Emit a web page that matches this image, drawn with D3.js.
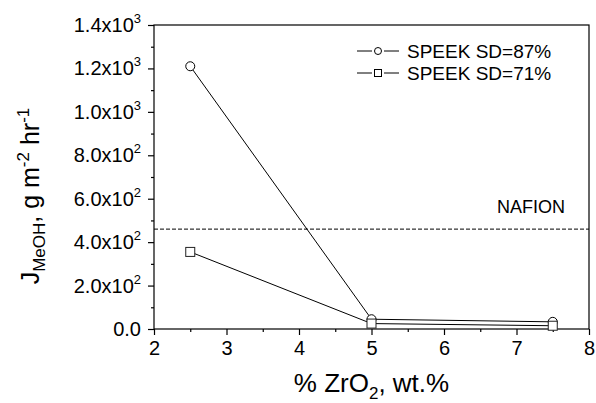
<!DOCTYPE html>
<html>
<head>
<meta charset="utf-8">
<script src="https://cdn.jsdelivr.net/npm/d3@7"></script>
<style>
  body { margin: 0; background: #fff; }
  svg text { font-family: Arial, "Liberation Sans", sans-serif; fill: #000; }
</style>
</head>
<body>
<div id="chart"></div>
<script>
// data
var zro2 = [2.5, 5, 7.5];
var sd87 = [1210, 45, 33];
var sd71 = [355, 25, 15];
var nafion = 460;
var seriesNames = ["SPEEK SD=87%", "SPEEK SD=71%"];
var yTicks = [0, 200, 400, 600, 800, 1000, 1200, 1400];
var yTickMant = ["0.0", "2.0", "4.0", "6.0", "8.0", "1.0", "1.2", "1.4"];
var yTickExp = ["", "2", "2", "2", "2", "3", "3", "3"];
var xTicks = [2, 3, 4, 5, 6, 7, 8];

var W = 596, H = 403;
var m = {left: 154, right: 7, top: 25, bottom: 74};
var svg = d3.select('#chart').append('svg').attr('width', W).attr('height', H);

var x = d3.scaleLinear().domain([2, 8]).range([m.left, W - m.right]);
var y = d3.scaleLinear().domain([0, 1400]).range([H - m.bottom, m.top]);

// frame
svg.append('rect')
  .attr('x', x(2)).attr('y', y(1400))
  .attr('width', x(8) - x(2)).attr('height', y(0) - y(1400))
  .attr('fill', 'none').attr('stroke', '#000').attr('stroke-width', 1.2);

// x axis
var xAxis = svg.append('g').attr('transform', 'translate(0,' + y(0) + ')');
xAxis.call(d3.axisBottom(x).tickValues(xTicks).tickSize(6).tickFormat(d3.format('d')));
xAxis.append('g').call(d3.axisBottom(x).tickValues(d3.range(2.5, 8, 1)).tickSize(3).tickFormat(''));
xAxis.selectAll('.domain').remove();
xAxis.selectAll('text').attr('font-size', 20).attr('dy', '0.85em');

// y axis
var yAxis = svg.append('g').attr('transform', 'translate(' + x(2) + ',0)');
yAxis.call(d3.axisLeft(y).tickValues(yTicks).tickSize(6).tickFormat(''));
yAxis.append('g').call(d3.axisLeft(y).tickValues(d3.range(100, 1400, 200)).tickSize(3).tickFormat(''));
yAxis.selectAll('.domain').remove();
svg.selectAll('.tick line').attr('stroke', '#000').attr('stroke-width', 1.2);

var yl = svg.append('g').selectAll('text').data(yTicks).join('text')
  .attr('x', x(2) - 13)
  .attr('y', function(d) { return y(d) + 7; })
  .attr('text-anchor', 'end')
  .attr('font-size', 20);
yl.append('tspan').text(function(d, i) { return yTickMant[i] + (yTickExp[i] ? 'x10' : ''); });
yl.append('tspan').attr('font-size', 13).attr('dy', -9).text(function(d, i) { return yTickExp[i]; });

// nafion reference
svg.append('line')
  .attr('x1', x(2)).attr('x2', x(8))
  .attr('y1', y(nafion)).attr('y2', y(nafion))
  .attr('stroke', '#000').attr('stroke-width', 1).attr('stroke-dasharray', '4,2');
svg.append('text').attr('x', 565).attr('y', y(nafion) - 16)
  .attr('text-anchor', 'end').attr('font-size', 18).text('NAFION');

// series
var line = d3.line().x(function(d, i) { return x(zro2[i]); }).y(function(d) { return y(d); });
[sd87, sd71].forEach(function(s) {
  svg.append('path').attr('d', line(s)).attr('fill', 'none').attr('stroke', '#000').attr('stroke-width', 1);
});
svg.append('g').selectAll('circle').data(sd87).join('circle')
  .attr('cx', function(d, i) { return x(zro2[i]); })
  .attr('cy', function(d) { return y(d); })
  .attr('r', 4.5).attr('fill', '#fff').attr('stroke', '#000').attr('stroke-width', 1);
svg.append('g').selectAll('rect').data(sd71).join('rect')
  .attr('x', function(d, i) { return x(zro2[i]) - 4.5; })
  .attr('y', function(d) { return y(d) - 4.5; })
  .attr('width', 9).attr('height', 9)
  .attr('fill', '#fff').attr('stroke', '#222').attr('stroke-width', 1);

// legend (line - marker - line, with small gaps)
var lg = svg.append('g');
seriesNames.forEach(function(name, i) {
  var cy = 51 + i * 22;
  lg.append('line').attr('x1', 357).attr('x2', 372).attr('y1', cy).attr('y2', cy).attr('stroke', '#000');
  lg.append('line').attr('x1', 384).attr('x2', 399).attr('y1', cy).attr('y2', cy).attr('stroke', '#000');
  if (i == 0)
    lg.append('circle').attr('cx', 378).attr('cy', cy).attr('r', 3.5).attr('fill', '#fff').attr('stroke', '#000');
  else
    lg.append('rect').attr('x', 374.5).attr('y', cy - 3.5).attr('width', 7).attr('height', 7).attr('fill', '#fff').attr('stroke', '#000');
  lg.append('text').attr('x', 407).attr('y', cy + 7).attr('font-size', 19).text(name);
});

// axis titles
var xt = svg.append('text').attr('x', (x(2) + x(8)) / 2).attr('y', 392)
  .attr('text-anchor', 'middle').attr('font-size', 26);
xt.append('tspan').text('% ZrO');
xt.append('tspan').attr('font-size', 17).attr('dy', 7).text('2');
xt.append('tspan').attr('dy', -7).text(', wt.%');

var yt = svg.append('text').attr('transform', 'translate(39,196) rotate(-90)')
  .attr('text-anchor', 'middle').attr('font-size', 25);
yt.append('tspan').text('J');
yt.append('tspan').attr('font-size', 17).attr('dy', 6).text('MeOH');
yt.append('tspan').attr('dy', -6).text(', g m');
yt.append('tspan').attr('font-size', 17).attr('dy', -10).text('-2');
yt.append('tspan').attr('dy', 10).text(' hr');
yt.append('tspan').attr('font-size', 17).attr('dy', -10).text('-1');
</script>
</body>
</html>
